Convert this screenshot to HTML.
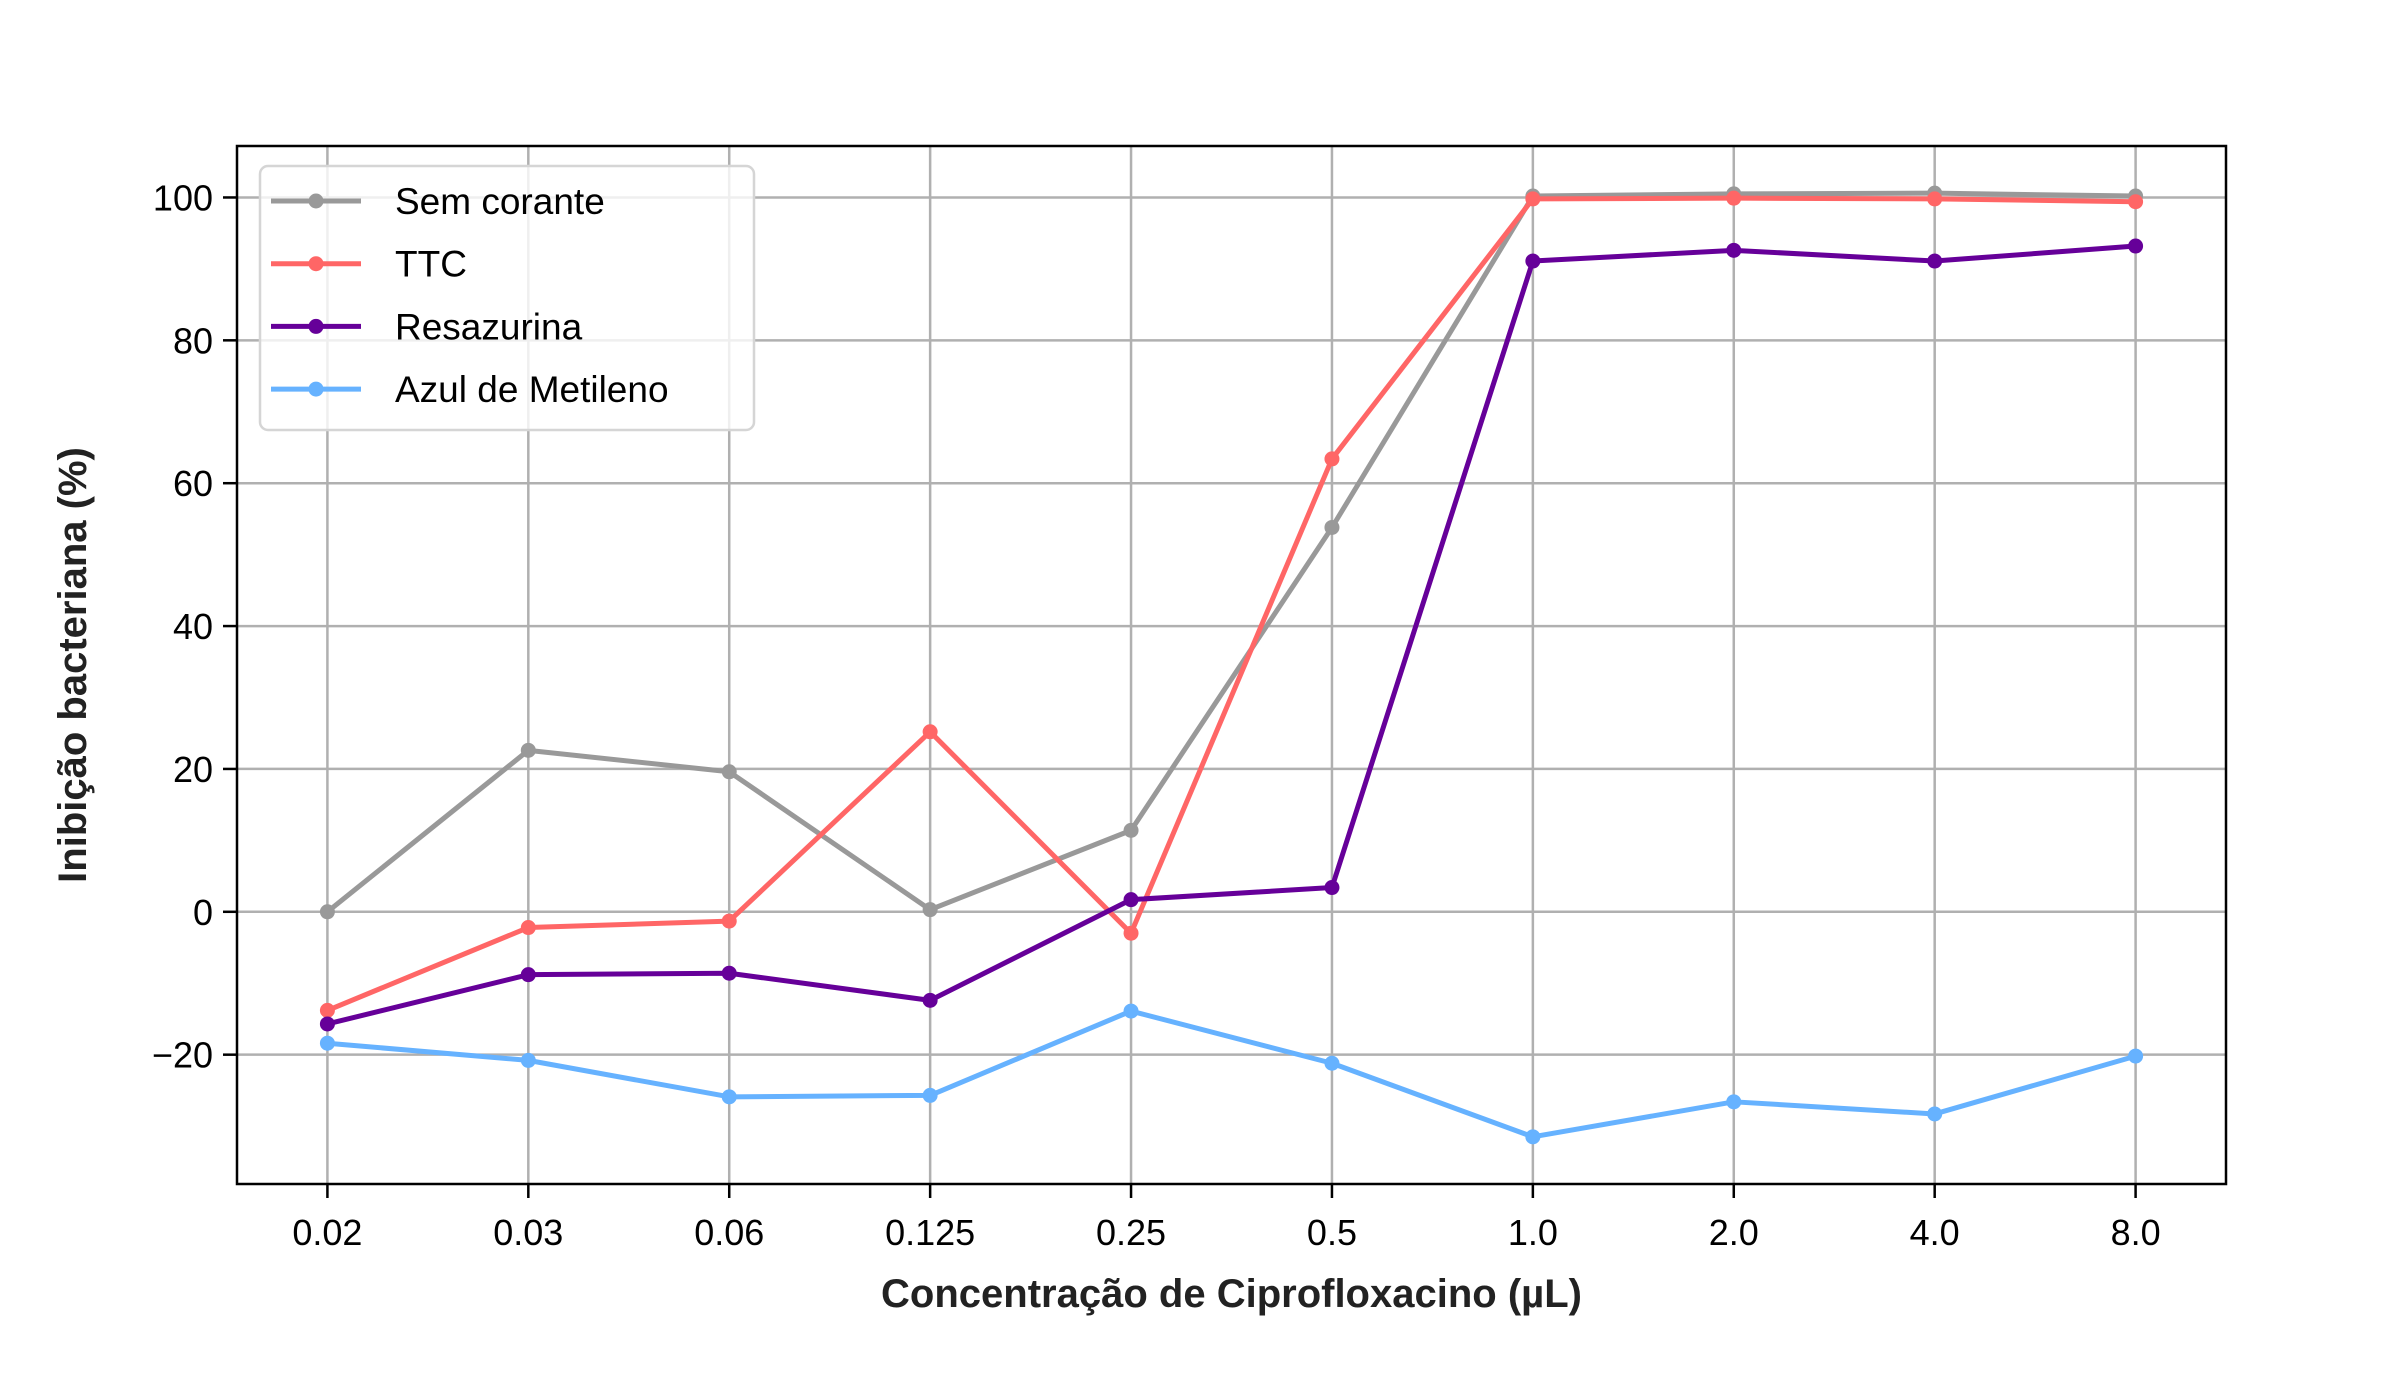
<!DOCTYPE html>
<html><head><meta charset="utf-8"><style>body{margin:0;background:#fff}svg text{font-family:"Liberation Sans",sans-serif}</style></head>
<body>
<svg id="chart" width="2400" height="1380" viewBox="0 0 2400 1380" xmlns="http://www.w3.org/2000/svg"></svg>
<script>
const categories = ["0.02","0.03","0.06","0.125","0.25","0.5","1.0","2.0","4.0","8.0"];
const semCorante = [0, 22.6, 19.6, 0.3, 11.4, 53.8, 100.2, 100.5, 100.6, 100.2];
const ttc = [-13.8, -2.2, -1.3, 25.2, -3.0, 63.4, 99.8, 99.9, 99.8, 99.4];
const resazurina = [-15.7, -8.8, -8.6, -12.4, 1.7, 3.4, 91.1, 92.6, 91.1, 93.2];
const azul = [-18.4, -20.8, -25.9, -25.7, -13.9, -21.2, -31.5, -26.6, -28.3, -20.2];
const yTicks = [-20, 0, 20, 40, 60, 80, 100];
const seriesNames = ["Sem corante","TTC","Resazurina","Azul de Metileno"];

const NS="http://www.w3.org/2000/svg", svg=document.getElementById('chart');
const L=237,R=2226,T=146,B=1184;
const allV=semCorante.concat(ttc,resazurina,azul);
const vmin=Math.min(...allV), vmax=Math.max(...allV), pad=(vmax-vmin)*0.05;
const y0=vmin-pad, y1=vmax+pad;
const n=categories.length, xr=(n-1)*1.1;
const xs=i=>L+(i+(n-1)*0.05)/xr*(R-L);
const ys=v=>B-(v-y0)/(y1-y0)*(B-T);
function el(t,a,p){const e=document.createElementNS(NS,t);for(const k in a)e.setAttribute(k,a[k]);(p||svg).appendChild(e);return e;}

categories.forEach((c,i)=>{
  const g=el('line',{x1:xs(i),x2:xs(i),y1:T,y2:B,stroke:'#b0b0b0','stroke-width':2.5});
  
  
  const tk=el('line',{x1:xs(i),x2:xs(i),y1:B,y2:B+14,stroke:'#000','stroke-width':2.5});
  
  
  const t=el('text',{x:xs(i),y:B+61,'text-anchor':'middle','font-size':36});
  t.textContent=c;
  
  
});
yTicks.forEach(v=>{
  const g=el('line',{x1:L,x2:R,y1:ys(v),y2:ys(v),stroke:'#b0b0b0','stroke-width':2.5});
  
  
  const tk=el('line',{x1:L-14,x2:L,y1:ys(v),y2:ys(v),stroke:'#000','stroke-width':2.5});
  
  
  const t=el('text',{x:L-24,y:ys(v)+13,'text-anchor':'end','font-size':36});
  t.textContent=v<0?'\u2212'+Math.abs(v):String(v);
  
  
});

const colors=['#999999','#ff6666','#660099','#66b2ff'];
[semCorante,ttc,resazurina,azul].forEach((d,si)=>{
  const g=el('g',{});
  
  
  el('polyline',{points:d.map((v,i)=>xs(i)+','+ys(v)).join(' '),fill:'none',stroke:colors[si],'stroke-width':5,'stroke-linejoin':'round'},g);
  d.forEach((v,i)=>{
    const c=el('circle',{cx:xs(i),cy:ys(v),r:7.5,fill:colors[si]},g);
    
    
  });
});

const frame=el('rect',{x:L,y:T,width:R-L,height:B-T,fill:'none',stroke:'#000','stroke-width':2.5});



const lg=el('g',{});


el('rect',{x:260,y:166,width:494,height:264,rx:8,fill:'rgba(255,255,255,0.8)',stroke:'#d5d5d5','stroke-width':2.5},lg);
seriesNames.forEach((s,i)=>{
  const yy=201+i*62.7;
  const e=el('g',{},lg);
  
  
  el('line',{x1:271,x2:361,y1:yy,y2:yy,stroke:colors[i],'stroke-width':5},e);
  el('circle',{cx:316,cy:yy,r:7.5,fill:colors[i]},e);
  const t=el('text',{x:395,y:yy+13,'font-size':37},e);
  t.textContent=s;
});

const xl=el('text',{x:(L+R)/2,y:1307,'text-anchor':'middle','font-size':40,'font-weight':'bold',fill:'#222'});
xl.textContent='Concentração de Ciprofloxacino (µL)';


const yl=el('text',{x:0,y:0,'text-anchor':'middle','font-size':40,'font-weight':'bold',fill:'#222',transform:'translate(86,'+((T+B)/2)+') rotate(-90)'});
yl.textContent='Inibição bacteriana (%)';


</script>
</body></html>
